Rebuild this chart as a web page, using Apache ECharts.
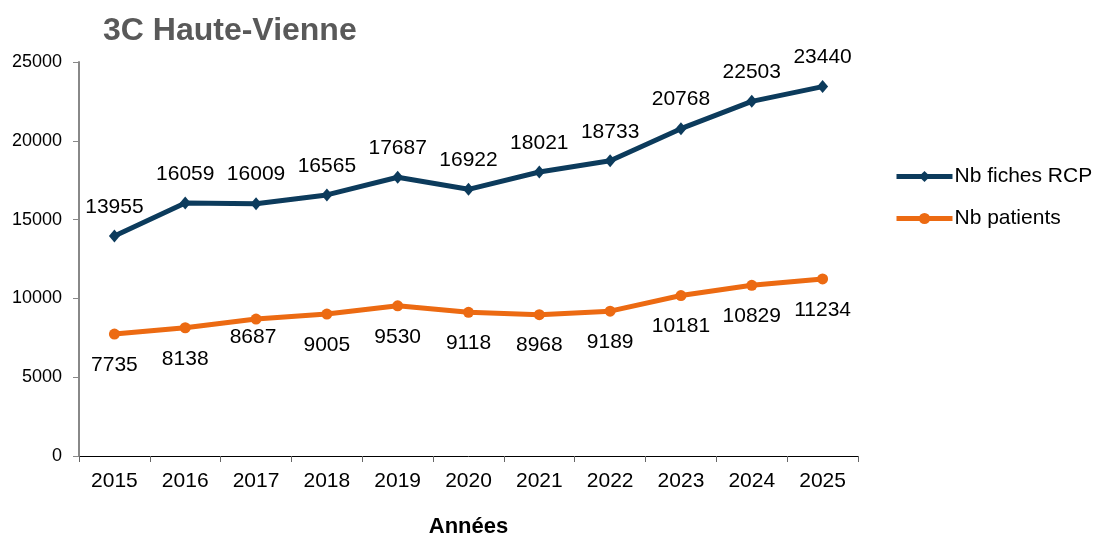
<!DOCTYPE html>
<html><head><meta charset="utf-8">
<script src="https://cdn.jsdelivr.net/npm/echarts@6/dist/echarts.min.js"></script>
<style>html,body{margin:0;padding:0;background:#fff}#c{width:1094px;height:535px}</style>
</head><body><div id="c"></div>
<script>
const years = ['2015','2016','2017','2018','2019','2020','2021','2022','2023','2024','2025'];
const fichesRCP = [13955,16059,16009,16565,17687,16922,18021,18733,20768,22503,23440];
const patients = [7735,8138,8687,9005,9530,9118,8968,9189,10181,10829,11234];
const yTicks = [0,5000,10000,15000,20000,25000];

const chart = echarts.init(document.getElementById('c'), null, {renderer:'canvas'});
const F = '"Liberation Sans", Arial, sans-serif';
const NAVY = '#0c3b5c', ORANGE = '#ec6a12';
// patients data with one label nudged (as in the reference)
const patientsData = patients.map((v,i)=> i===2 ? {value:v, label:{offset:[-3,-13]}} : v);
chart.setOption({
  animation:false,
  title:{text:'3C Haute-Vienne', left:98, top:10,
    textStyle:{fontFamily:F, fontSize:32, fontWeight:'bold', color:'#595959'}},
  legend:{
    orient:'vertical', left:894, top:166, padding:0, itemGap:21, itemWidth:56, itemHeight:14,
    lineStyle:{width:5},
    textStyle:{fontFamily:F, fontSize:21, color:'#000', padding:[0,0,0,-3]},
    data:['Nb fiches RCP','Nb patients']
  },
  grid:{left:79, right:236, top:62, bottom:79, containLabel:false, outerBoundsMode:'none'},
  xAxis:{
    type:'category', data:years, boundaryGap:true,
    name:'Années', nameLocation:'middle', nameGap:60,
    nameTextStyle:{fontFamily:F, fontSize:22, fontWeight:'bold', color:'#000'},
    axisLine:{lineStyle:{color:'#000', width:1}},
    axisTick:{show:true, length:6, lineStyle:{color:'#666'}},
    axisLabel:{fontFamily:F, fontSize:21, color:'#000', margin:15}
  },
  yAxis:{
    type:'value', min:yTicks[0], max:yTicks[yTicks.length-1], interval:5000,
    axisLine:{show:true, lineStyle:{color:'#888', width:2}},
    axisTick:{show:true, length:6, lineStyle:{color:'#888'}},
    splitLine:{show:false},
    axisLabel:{fontFamily:F, fontSize:18, color:'#000', margin:17, formatter:v=>String(v)}
  },
  series:[
    {name:'Nb fiches RCP', type:'line', data:fichesRCP, symbol:'diamond', symbolSize:[11,13],
      lineStyle:{color:NAVY, width:5}, itemStyle:{color:NAVY},
      label:{show:true, position:'top', distance:12, fontFamily:F, fontSize:21, color:'#000'}},
    {name:'Nb patients', type:'line', data:patientsData, symbol:'circle', symbolSize:11,
      lineStyle:{color:ORANGE, width:5}, itemStyle:{color:ORANGE},
      label:{show:true, position:'bottom', distance:15, fontFamily:F, fontSize:21, color:'#000'}}
  ]
});
</script></body></html>
